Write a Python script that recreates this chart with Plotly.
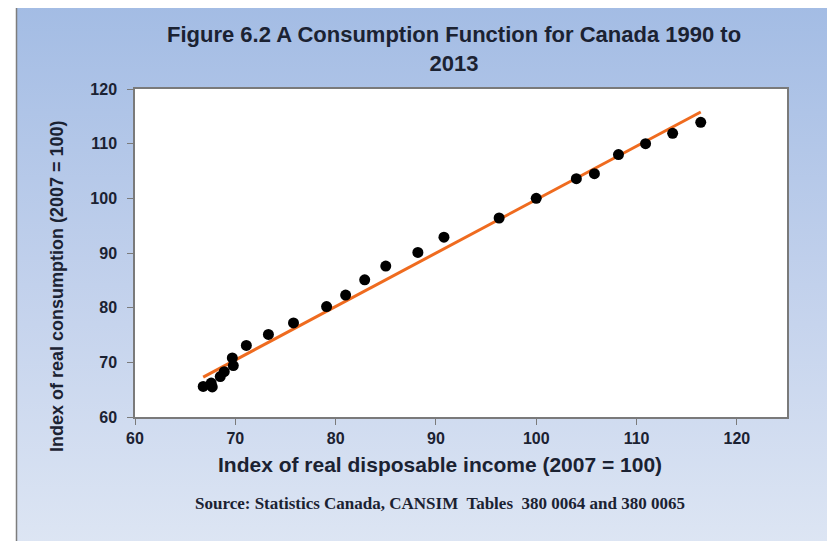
import base64
import plotly.graph_objects as go

# ==============================
# data
# ==============================
income = [66.8, 67.6, 67.7, 68.5, 68.9, 69.7, 69.8, 71.1, 73.3, 75.8, 79.1, 81.0,
          82.9, 85.0, 88.2, 90.8, 96.3, 100.0, 104.0, 105.8, 108.2, 110.9, 113.6, 116.4]
consumption = [65.6, 66.2, 65.5, 67.4, 68.3, 70.8, 69.4, 73.1, 75.1, 77.2, 80.2, 82.3,
               85.1, 87.6, 90.1, 92.9, 96.4, 100.0, 103.6, 104.5, 108.0, 110.0, 111.9, 113.9]

# fitted line end points (as drawn in the picture)
trend_x = [66.8, 116.4]
trend_y = [67.3, 115.8]

x_ticks = [60, 70, 80, 90, 100, 110, 120]
x_labels = ["60", "70", "80", "90", "100", "110", "120"]
y_ticks = [60, 70, 80, 90, 100, 110, 120]
y_labels = ["60", "70", "80", "90", "100", "110", "120"]

# ==============================
# page geometry (screen pixels)
# ==============================
W, H = 835, 541
OFF = 8                       # page body margin
SL, ST, SR, SB = 135, 89, 787, 417   # plot box on screen
PW, PH = SR - SL, SB - ST


def px(x):
    return (x - SL) / PW


def py(y):
    return (SB - y) / PH


# gradient background as an svg image
svg = ("<svg xmlns='http://www.w3.org/2000/svg' width='100' height='100'>"
       "<defs><linearGradient id='g' x1='0' y1='0' x2='0' y2='1'>"
       "<stop offset='0' stop-color='#a3bce4'/><stop offset='0.5' stop-color='#c2d1ec'/>"
       "<stop offset='1' stop-color='#dfe7f4'/></linearGradient></defs>"
       "<rect width='100' height='100' fill='url(#g)'/></svg>")
bg_src = "data:image/svg+xml;base64," + base64.b64encode(svg.encode()).decode()

fig = go.Figure()

fig.add_trace(go.Scatter(
    x=trend_x, y=trend_y, mode="lines",
    line=dict(color="#ef6b1f", width=3),
    hoverinfo="skip", showlegend=False,
))

fig.add_trace(go.Scatter(
    x=income, y=consumption, mode="markers",
    marker=dict(color="black", size=11),
    showlegend=False,
))

sans = dict(family="Liberation Sans, Arial", color="#1b2232")
tickfont = dict(size=16, **sans)

fig.update_layout(
    width=W, height=H,
    margin=dict(l=SL - OFF, r=W - (SR - OFF), t=ST - OFF, b=H - (SB - OFF)),
    paper_bgcolor="white",
    plot_bgcolor="white",
    images=[dict(
        source=bg_src, xref="paper", yref="paper",
        x=px(17), y=py(5), sizex=(W + 20) / PW, sizey=(H + 20) / PH,
        xanchor="left", yanchor="top", sizing="stretch", layer="below",
    )],
    shapes=[
        # white plot area on top of the gradient
        dict(type="rect", xref="paper", yref="paper", x0=0, x1=1, y0=0, y1=1,
             fillcolor="white", line=dict(width=0), layer="below"),
        # slide frame
        dict(type="line", xref="paper", yref="paper", x0=px(16.5), x1=px(16.5),
             y0=py(4.5), y1=py(H + 20), line=dict(color="#7d7d7d", width=1.5)),
        dict(type="line", xref="paper", yref="paper", x0=px(16.5), x1=px(W + 20),
             y0=py(4.5), y1=py(4.5), line=dict(color="#7d7d7d", width=1.5)),
    ],
    xaxis=dict(
        range=[60, 125], tickvals=x_ticks,
        ticktext=["<b>%s</b>" % t for t in x_labels],
        showgrid=False, zeroline=False,
        showline=True, mirror=True, linecolor="#7a7a7a", linewidth=1.5,
        ticks="outside", ticklen=6, tickcolor="#7a7a7a",
        tickfont=tickfont,
    ),
    yaxis=dict(
        range=[60, 120], tickvals=y_ticks,
        ticktext=["<b>%s</b>" % t for t in y_labels],
        showgrid=False, zeroline=False,
        showline=True, mirror=True, linecolor="#7a7a7a", linewidth=1.5,
        ticks="outside", ticklen=6, tickcolor="#7a7a7a",
        tickfont=tickfont, ticklabelstandoff=7,
    ),
    annotations=[
        dict(text="<b>Figure 6.2 A Consumption Function for Canada 1990 to<br>2013</b>",
             x=px(454), y=py(49), xref="paper", yref="paper", showarrow=False,
             font=dict(size=22, **sans), xanchor="center", yanchor="middle"),
        dict(text="<b>Index of real disposable income (2007 = 100)</b>",
             x=px(440), y=py(464), xref="paper", yref="paper", showarrow=False,
             font=dict(size=21, **sans), xanchor="center", yanchor="middle"),
        dict(text="<b>Index of real consumption (2007 = 100)</b>", textangle=-90,
             x=px(57), y=py(286), xref="paper", yref="paper", showarrow=False,
             font=dict(size=18, **sans), xanchor="center", yanchor="middle"),
        dict(text="<b>Source: Statistics Canada, CANSIM  Tables  380 0064 and 380 0065</b>",
             x=px(440), y=py(503), xref="paper", yref="paper", showarrow=False,
             font=dict(size=17, family="Liberation Serif, Times New Roman", color="#1b2232"),
             xanchor="center", yanchor="middle"),
    ],
)

fig.write_html("out.html")
